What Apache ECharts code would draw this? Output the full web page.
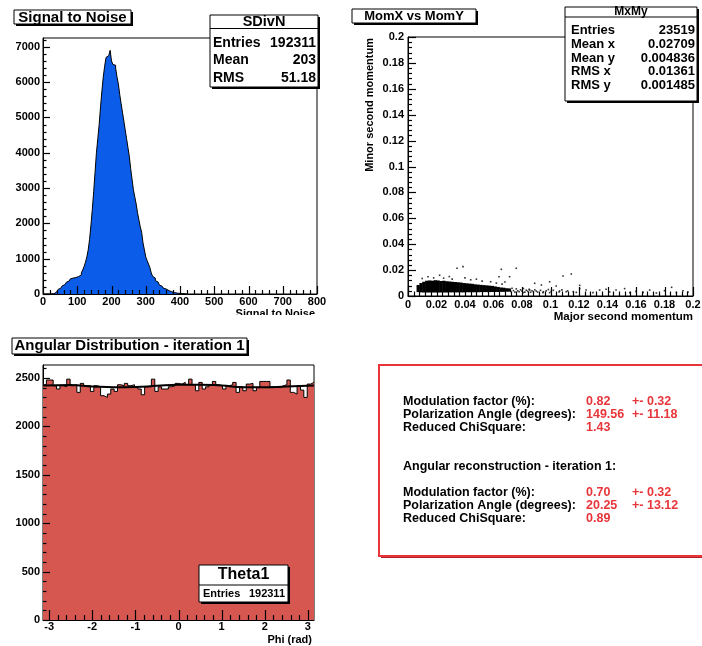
<!DOCTYPE html>
<html>
<head>
<meta charset="utf-8">
<title>Signal to Noise / Angular Distribution</title>
<script src="https://cdn.jsdelivr.net/npm/echarts@6/dist/echarts.min.js"></script>
<style>
  html, body { margin: 0; padding: 0; background: #fff; }
  #main { width: 702px; height: 646px; }
</style>
</head>
<body>
<div id="main"></div>
<script>
// ---------- data ----------
// Signal to Noise histogram, bins of 4 starting at 0
var sdnStart = 0;
var sdnBinWidth = 4;
var sdnCounts = [
    0, 0, 0, 0, 0, 0, 0, 5,
    25, 60, 100, 130, 165, 195, 230, 265, 300, 330, 365, 395,
    430, 450, 455, 465, 480, 495, 510, 540, 600, 680,
    780, 900, 1050, 1250, 1550, 1950, 2400, 2900, 3450, 4000,
    4400, 4800, 5300, 5750, 6150, 6450, 6700, 6750, 6800, 6900,
    6600, 6500, 6480, 6400, 6150, 5950, 5650, 5400, 5150, 4900,
    4650, 4400, 4150, 3900, 3550, 3250, 2950, 2750, 2550, 2300,
    2100, 1900, 1750, 1450, 1250, 1050, 950, 850, 750, 600,
    500, 450, 380, 340, 290, 250, 220, 190, 160, 140,
    115, 95, 80, 65, 50, 40, 32, 25, 20, 16,
    12, 10, 8, 5, 3
];
var sdnStats = [['Entries', '192311'], ['Mean', '203'], ['RMS', '51.18']];

// MomX vs MomY : dense core (columns) + sparse entries
var momBlobWidth = 0.002;
var momBlobX = [0.006, 0.008, 0.010, 0.012, 0.014, 0.016, 0.018, 0.020, 0.022, 0.024, 0.026,
    0.028, 0.030, 0.032, 0.034, 0.036, 0.038, 0.040, 0.042, 0.044, 0.046, 0.048,
    0.050, 0.052, 0.054, 0.056, 0.058, 0.060, 0.062, 0.064, 0.066, 0.068, 0.070];
var momBlobTop = [0.0085, 0.0100, 0.0110, 0.0118, 0.0120, 0.0118, 0.0122, 0.0120, 0.0116, 0.0118, 0.0114,
    0.0112, 0.0110, 0.0108, 0.0106, 0.0104, 0.0100, 0.0098, 0.0096, 0.0094, 0.0090, 0.0088,
    0.0086, 0.0084, 0.0082, 0.0080, 0.0078, 0.0074, 0.0070, 0.0066, 0.0064, 0.0060, 0.0058];
var momBlobBottom = [0.0030, 0.0028, 0.0027, 0.0027, 0.0027, 0.0027, 0.0027, 0.0027, 0.0027, 0.0027, 0.0027,
    0.0028, 0.0028, 0.0028, 0.0028, 0.0028, 0.0028, 0.0029, 0.0029, 0.0029, 0.0029, 0.0029,
    0.0030, 0.0030, 0.0030, 0.0030, 0.0031, 0.0031, 0.0031, 0.0032, 0.0032, 0.0033, 0.0034];
var momSparse = [
    [0.0386, 0.0227], [0.0344, 0.0214], [0.0655, 0.0206], [0.0760, 0.0214], [0.1088, 0.0155],
    [0.1146, 0.0170], [0.0713, 0.0149], [0.0639, 0.0149], [0.0222, 0.0160], [0.0140, 0.0149],
    [0.0994, 0.0110], [0.0936, 0.0085], [0.0889, 0.0098], [0.1040, 0.0077], [0.1205, 0.0082],
    [0.1205, 0.0057], [0.1250, 0.0046], [0.1345, 0.0046], [0.1390, 0.0052], [0.1460, 0.0046],
    [0.1520, 0.0057], [0.1600, 0.0036], [0.1696, 0.0046], [0.1800, 0.0041], [0.1850, 0.0067],
    [0.1930, 0.0041], [0.1110, 0.0033], [0.0994, 0.0026], [0.0854, 0.0046], [0.0807, 0.0026],
    [0.0947, 0.0026], [0.1064, 0.0039], [0.1181, 0.0028], [0.1298, 0.0026], [0.1415, 0.0031],
    [0.1556, 0.0026], [0.1650, 0.0028], [0.1743, 0.0023], [0.1883, 0.0026], [0.1965, 0.0031],
    [0.071, 0.0050], [0.072, 0.0035], [0.073, 0.0060], [0.074, 0.0042], [0.075, 0.0030],
    [0.076, 0.0055], [0.077, 0.0040], [0.078, 0.0033], [0.079, 0.0048], [0.080, 0.0038],
    [0.081, 0.0058], [0.082, 0.0030], [0.083, 0.0045], [0.084, 0.0036], [0.085, 0.0052],
    [0.086, 0.0029], [0.087, 0.0040], [0.088, 0.0034], [0.089, 0.0048], [0.090, 0.0038],
    [0.091, 0.0030], [0.093, 0.0044], [0.095, 0.0033], [0.097, 0.0040], [0.0985, 0.0050],
    [0.1005, 0.0036], [0.102, 0.0044], [0.106, 0.0031], [0.108, 0.0047], [0.112, 0.0040],
    [0.116, 0.0034], [0.010, 0.0135], [0.018, 0.0140], [0.025, 0.0138], [0.031, 0.0130],
    [0.044, 0.0125], [0.052, 0.0115], [0.058, 0.0110], [0.062, 0.0100], [0.066, 0.0092],
    [0.068, 0.0108], [0.029, 0.0150], [0.040, 0.0140], [0.048, 0.0130]
];
var momStats = [['Entries', '23519'], ['Mean x', '0.02709'], ['Mean y', '0.004836'],
    ['RMS x', '0.01361'], ['RMS y', '0.001485']];

// Angular distribution, 80 bins over [-pi, pi]
var phiBins = 80;
var phiCounts = [
    2430, 2480, 2480, 2420, 2387, 2421, 2410, 2489, 2421, 2431,
    2352, 2445, 2421, 2421, 2362, 2421, 2410, 2318, 2300, 2335,
    2387, 2362, 2431, 2421, 2445, 2421, 2431, 2410, 2387, 2328,
    2410, 2410, 2489, 2362, 2410, 2387, 2387, 2410, 2421, 2445,
    2438, 2455, 2431, 2489, 2431, 2369, 2455, 2387, 2410, 2431,
    2465, 2431, 2421, 2387, 2421, 2431, 2455, 2352, 2410, 2369,
    2438, 2445, 2369, 2404, 2465, 2465, 2465, 2410, 2404, 2404,
    2421, 2431, 2480, 2352, 2335, 2421, 2376, 2300, 2438, 2455
];
// fit curve
var fitPhi = [-3.14, -2.5, -2.0, -1.5, -1.0, -0.5, 0.0, 0.5, 1.0, 1.5, 2.0, 2.5, 3.14];
var fitVals = [2422, 2428, 2414, 2405, 2408, 2420, 2430, 2432, 2422, 2406, 2404, 2413, 2422];
var thetaStats = [['Entries', '192311']];

// tick labels
var sdnXLabels = [0, 100, 200, 300, 400, 500, 600, 700, 800];
var sdnYLabels = [0, 1000, 2000, 3000, 4000, 5000, 6000, 7000];
var momLabels = [0, 0.02, 0.04, 0.06, 0.08, 0.1, 0.12, 0.14, 0.16, 0.18, 0.2];
var phiLabels = [-3, -2, -1, 0, 1, 2, 3];
var phiYLabels = [0, 500, 1000, 1500, 2000, 2500];

// fit results text
var fitBlock1 = [
    ['Modulation factor (%):', '0.82', '+- 0.32'],
    ['Polarization Angle (degrees):', '149.56', '+- 11.18'],
    ['Reduced ChiSquare:', '1.43', '']
];
var fitHeading = 'Angular reconstruction - iteration 1:';
var fitBlock2 = [
    ['Modulation factor (%):', '0.70', '+- 0.32'],
    ['Polarization Angle (degrees):', '20.25', '+- 13.12'],
    ['Reduced ChiSquare:', '0.89', '']
];

// ---------- helpers ----------
var FONT = '"Liberation Sans", Arial, Helvetica, sans-serif';
var RED_TXT = '#e8353a';

//直方图阶梯点
function histPoints(start, width, counts) {
    var pts = [];
    for (var i = 0; i < counts.length; i++) {
        pts.push([start + i * width, counts[i]]);
    }
    pts.push([start + counts.length * width, counts[counts.length - 1]]);
    return pts;
}

function plainNum(v) {
    return String(+(+v).toFixed(6));
}

//次刻度位置（去掉主刻度）
function minorTicks(lo, hi, step, major) {
    var out = [];
    var k0 = Math.ceil(lo / step - 1e-9), k1 = Math.floor(hi / step + 1e-9);
    for (var k = k0; k <= k1; k++) {
        var v = +(k * step).toFixed(8);
        var isMajor = major.some(function (m) { return Math.abs(m - v) < step * 1e-3; });
        if (!isMajor) out.push(v);
    }
    return out;
}

function valAxis(grid, min, max, labels, margin) {
    return {
        type: 'value', gridIndex: grid, min: min, max: max,
        axisLine: { show: true, onZero: false, lineStyle: { color: '#000', width: 1 } },
        axisTick: { show: false },
        minorTick: { show: false },
        splitLine: { show: false },
        axisLabel: {
            show: true, color: '#000', fontFamily: FONT, fontWeight: 'bold', fontSize: 11,
            margin: margin, hideOverlap: false, formatter: plainNum, customValues: labels
        }
    };
}

//ROOT风格的内侧刻度（通过坐标轴换算位置）
function tickSeries(axisIdx, dir, anchor, majors, minors, lenMajor, lenMinor) {
    var data = [];
    majors.forEach(function (v) { data.push(dir === 'x' ? [v, anchor, 0] : [anchor, v, 0]); });
    minors.forEach(function (v) { data.push(dir === 'x' ? [v, anchor, 1] : [anchor, v, 1]); });
    return {
        type: 'custom', xAxisIndex: axisIdx, yAxisIndex: axisIdx, silent: true, z: 10,
        data: data, encode: { x: 0, y: 1 },
        renderItem: function (params, api) {
            var p = api.coord([api.value(0), api.value(1)]);
            var len = api.value(2) ? lenMinor : lenMajor;
            var shape;
            if (dir === 'x') {
                var x = Math.round(p[0]) + 0.5;
                shape = { x1: x, y1: p[1], x2: x, y2: p[1] - len };
            } else {
                var y = Math.round(p[1]) + 0.5;
                shape = { x1: p[0], y1: y, x2: p[0] + len, y2: y };
            }
            return { type: 'line', shape: shape, style: { stroke: '#000', lineWidth: 1.2 } };
        }
    };
}

function txt(x, y, s, size, align, color, extra) {
    var el = {
        type: 'text', x: x, y: y, z: 120,
        style: { text: s, font: 'bold ' + size + 'px ' + FONT, fill: color || '#000',
            align: align || 'left', verticalAlign: 'middle' }
    };
    if (extra) { for (var k in extra) el[k] = extra[k]; }
    return el;
}

//ROOT风格的带阴影框
function paveBox(x, y, w, h) {
    return [
        { type: 'rect', z: 110, shape: { x: x + 2, y: y + 2, width: w, height: h }, style: { fill: '#000' } },
        { type: 'rect', z: 111, shape: { x: x, y: y, width: w, height: h },
            style: { fill: '#fff', stroke: '#000', lineWidth: 1 } }
    ];
}

function line(x1, y1, x2, y2) {
    return { type: 'line', z: 112, shape: { x1: x1, y1: y1, x2: x2, y2: y2 },
        style: { stroke: '#000', lineWidth: 1 } };
}

// ---------- graphics ----------
var g = [];
// panel 1
g = g.concat(paveBox(14, 10, 117, 14));
g.push(txt(72.5, 17.5, 'Signal to Noise', 15, 'center'));
g = g.concat(paveBox(210, 15, 108, 72));
g.push(line(210, 28.5, 318, 28.5));
g.push(txt(264, 22, 'SDivN', 14.5, 'center'));
sdnStats.forEach(function (r, i) {
    g.push(txt(213, 43 + i * 17.5, r[0], 14, 'left'));
    g.push(txt(316, 43 + i * 17.5, r[1], 14, 'right'));
});
g.push(txt(315, 308, 'Signal to Noise', 11, 'right'));
g[g.length - 1].style.verticalAlign = 'top';
g.push({ type: 'rect', z: 130, shape: { x: 180, y: 315, width: 165, height: 14 }, style: { fill: '#fff' } });

// panel 2
g = g.concat(paveBox(352, 9, 124, 14));
g.push(txt(414, 16, 'MomX vs MomY', 13, 'center'));
g = g.concat(paveBox(565, 7, 132, 94));
g.push(line(565, 17, 697, 17));
g.push(txt(631, 12, 'MxMy', 12, 'center'));
momStats.forEach(function (r, i) {
    g.push(txt(571, 30.5 + i * 13.8, r[0], 13, 'left'));
    g.push(txt(695, 30.5 + i * 13.8, r[1], 13, 'right'));
});
g.push(txt(693, 316.5, 'Major second momentum', 11.5, 'right'));
g.push(txt(370, 38, 'Minor second momentum', 11, 'right', '#000', { rotation: Math.PI / 2 }));

// panel 3
g = g.concat(paveBox(12, 338, 235, 16));
g.push(txt(129.5, 346, 'Angular Distribution - iteration 1', 15, 'center'));
g = g.concat(paveBox(199, 565, 89, 37));
g.push(line(199, 585, 288, 585));
g.push(txt(243.5, 575, 'Theta1', 16, 'center'));
thetaStats.forEach(function (r, i) {
    g.push(txt(203, 594 + i * 12, r[0], 11, 'left'));
    g.push(txt(285, 594 + i * 12, r[1], 11, 'right'));
});
g.push(txt(312, 640, 'Phi (rad)', 11, 'right'));

// panel 4 : fit results
g.push({ type: 'rect', z: 100, shape: { x: 381, y: 367, width: 340, height: 191 }, style: { fill: '#b02025' } });
g.push({ type: 'rect', z: 101, shape: { x: 379, y: 365, width: 340, height: 191 },
    style: { fill: '#fff', stroke: '#e8343a', lineWidth: 2 } });
function fitRows(rows, y0) {
    rows.forEach(function (r, i) {
        var y = y0 + i * 13;
        g.push(txt(403, y, r[0], 12.5, 'left'));
        g.push(txt(586, y, r[1], 12.5, 'left', RED_TXT));
        if (r[2]) g.push(txt(632, y, r[2], 12.5, 'left', RED_TXT));
    });
}
fitRows(fitBlock1, 401.7);
g.push(txt(403, 466.5, fitHeading, 12.5, 'left'));
fitRows(fitBlock2, 492.8);

// ---------- chart ----------
var PHI_MAX = Math.PI;
var sdnYMax = 7250, phiYMax = 2635;

var chart = echarts.init(document.getElementById('main'), null, { renderer: 'canvas' });
var option = {
    animation: false,
    backgroundColor: '#fff',
    grid: [
        { left: 43, top: 38, width: 274, height: 256, show: true, borderColor: '#000', borderWidth: 1, outerBoundsMode: 'none' },
        { left: 408, top: 37, width: 285, height: 259, show: true, borderColor: '#000', borderWidth: 1, outerBoundsMode: 'none' },
        { left: 43, top: 365, width: 271, height: 255, show: true, borderColor: '#000', borderWidth: 1, outerBoundsMode: 'none' }
    ],
    xAxis: [
        valAxis(0, 0, 800, sdnXLabels, 2),
        valAxis(1, 0, 0.2, momLabels, 3.5),
        valAxis(2, -PHI_MAX, PHI_MAX, phiLabels, 1)
    ],
    yAxis: [
        valAxis(0, 0, sdnYMax, sdnYLabels, 3),
        valAxis(1, 0, 0.2, momLabels, 4),
        valAxis(2, 0, phiYMax, phiYLabels, 3)
    ],
    graphic: g,
    series: [
        {
            type: 'line', xAxisIndex: 0, yAxisIndex: 0, step: 'end', symbol: 'none',
            data: histPoints(sdnStart, sdnBinWidth, sdnCounts),
            lineStyle: { color: '#000', width: 1 },
            areaStyle: { color: '#0a5ce9', opacity: 1 }
        },
        {
            type: 'custom', xAxisIndex: 1, yAxisIndex: 1,
            data: momBlobX.map(function (x, i) { return [x, x + momBlobWidth, momBlobBottom[i], momBlobTop[i]]; }),
            encode: { x: [0, 1], y: [2, 3] },
            renderItem: function (params, api) {
                var p0 = api.coord([api.value(0), api.value(3)]);
                var p1 = api.coord([api.value(1), api.value(2)]);
                return { type: 'rect', shape: { x: p0[0], y: p0[1], width: p1[0] - p0[0] + 0.5, height: p1[1] - p0[1] },
                    style: { fill: '#000' } };
            }
        },
        {
            type: 'scatter', xAxisIndex: 1, yAxisIndex: 1, symbol: 'rect', symbolSize: 1.6,
            data: momSparse, itemStyle: { color: '#000' }
        },
        {
            type: 'line', xAxisIndex: 2, yAxisIndex: 2, step: 'end', symbol: 'none',
            data: histPoints(-PHI_MAX, 2 * PHI_MAX / phiBins, phiCounts),
            lineStyle: { color: '#000', width: 1 },
            areaStyle: { color: '#d5574f', opacity: 1 }
        },
        {
            type: 'line', xAxisIndex: 2, yAxisIndex: 2, smooth: true, symbol: 'none', z: 5,
            data: fitPhi.map(function (p, i) { return [p, fitVals[i]]; }),
            lineStyle: { color: '#000', width: 2 }
        },
        // inner ticks
        tickSeries(0, 'x', 0, sdnXLabels, minorTicks(0, 800, 20, sdnXLabels), 8, 4),
        tickSeries(0, 'y', 0, sdnYLabels, minorTicks(0, sdnYMax, 200, sdnYLabels), 7, 3.5),
        tickSeries(1, 'x', 0, momLabels, minorTicks(0, 0.2, 0.004, momLabels), 9, 4.5),
        tickSeries(1, 'y', 0, momLabels, minorTicks(0, 0.2, 0.004, momLabels), 8, 4),
        tickSeries(2, 'x', 0, phiLabels, minorTicks(-PHI_MAX, PHI_MAX, 0.2, phiLabels), 10, 5),
        tickSeries(2, 'y', -PHI_MAX, phiYLabels, minorTicks(0, phiYMax, 100, phiYLabels), 7, 3.5)
    ]
};
chart.setOption(option);
</script>
</body>
</html>
